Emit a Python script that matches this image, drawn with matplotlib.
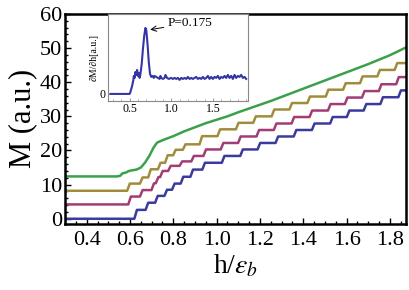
import numpy as np
import matplotlib
matplotlib.use("Agg")
import matplotlib.pyplot as plt
from matplotlib.ticker import MultipleLocator, FixedLocator

plt.rcParams['font.family'] = ['Liberation Serif', 'DejaVu Serif']
plt.rcParams['mathtext.fontset'] = 'stix'

# ---- data: staircase curves (rise locations and levels after each rise) ----
blue_start = 0.0
blue_steps = [0.626, 0.678, 0.722, 0.765, 0.80, 0.84, 0.885, 0.94, 1.03, 1.115,
              1.195, 1.278, 1.362, 1.446, 1.53, 1.607, 1.685, 1.762, 1.845]
blue_levels = [2.6, 4.7, 6.7, 8.5, 10.3, 12.3, 14.4, 16.4, 18.4, 20.3,
               22.2, 24.1, 26.0, 27.9, 29.8, 31.7, 33.6, 35.6, 37.6]

mag_start = 4.2
mag_steps = [0.598, 0.652, 0.705, 0.725, 0.745, 0.782, 0.835, 0.889, 0.945, 1.025,
             1.105, 1.19, 1.27, 1.352, 1.435, 1.52, 1.598, 1.677, 1.755, 1.835]
mag_levels = [6.5, 8.4, 10.4, 12.2, 14.0, 15.5, 16.8, 18.4, 20.3, 22.2,
              24.1, 26.0, 27.9, 29.8, 31.7, 33.6, 35.5, 37.4, 39.4, 41.5]

gold_start = 8.2
gold_steps = [0.593, 0.652, 0.69, 0.735, 0.768, 0.805, 0.85, 0.927, 1.01, 1.095,
              1.175, 1.26, 1.342, 1.425, 1.51, 1.59, 1.668, 1.748, 1.828]
gold_levels = [10.3, 12.1, 14.5, 16.4, 18.6, 20.2, 21.8, 24.2, 26.2, 28.1,
               30.0, 32.0, 33.9, 35.8, 37.8, 39.7, 41.7, 43.6, 45.6]

green_h = [0.30, 0.54, 0.555, 0.565, 0.58, 0.595, 0.61, 0.63, 0.65, 0.67, 0.69, 0.71,
           0.725, 0.75, 0.80, 0.85, 0.90, 0.95, 1.0, 1.05, 1.1, 1.15, 1.2, 1.25,
           1.3, 1.35, 1.4, 1.45, 1.5, 1.55, 1.6, 1.65, 1.7, 1.75, 1.8, 1.875]
green_m = [12.4, 12.4, 12.6, 13.3, 13.5, 14.0, 14.2, 14.4, 15.0, 16.5, 18.5, 21.0,
           22.3, 23.0, 24.2, 25.6, 26.8, 28.0, 29.0, 30.0, 31.2, 32.3, 33.4, 34.5,
           35.7, 36.9, 38.1, 39.3, 40.5, 41.7, 42.9, 44.1, 45.3, 46.6, 47.9, 50.2]

# ---- inset data: dM/dh ----
ins_h = [0.27, 0.50, 0.51, 0.53, 0.545, 0.55, 0.56, 0.57, 0.58, 0.59, 0.60, 0.61,
         0.62, 0.63, 0.645, 0.66, 0.675, 0.69, 0.70, 0.715, 0.73, 0.745, 0.76,
         0.775, 0.79, 0.80, 0.82, 0.84, 0.86, 0.87, 0.88, 0.90, 0.92, 0.93, 0.95,
         0.97, 1.0, 1.02, 1.04, 1.06, 1.08, 1.10, 1.12, 1.14, 1.16, 1.18, 1.20,
         1.22, 1.24, 1.26, 1.28, 1.30, 1.32, 1.34, 1.36, 1.38, 1.40, 1.42, 1.44,
         1.46, 1.48, 1.50, 1.52, 1.54, 1.56, 1.58, 1.60, 1.62, 1.64, 1.66, 1.68,
         1.70, 1.72, 1.74, 1.76, 1.78, 1.80, 1.82, 1.84, 1.86, 1.88, 1.90]
ins_v = [0, 0, 2, 8, 14, 18, 16, 22, 19, 24, 18, 21,
         16, 20, 30, 45, 58, 66, 64, 50, 32, 20, 17,
         18, 16, 18, 17, 16, 15, 18, 16, 15, 16, 19, 16,
         15, 16, 15, 16, 15, 16, 14, 16, 15, 16, 15, 17,
         15, 16, 15, 16, 17, 15, 16, 15, 17, 15, 16, 18,
         15, 17, 15, 17, 16, 18, 15, 17, 16, 18, 16, 19,
         16, 18, 15, 19, 16, 18, 17, 19, 16, 17, 15]

x_ticks = [0.4, 0.6, 0.8, 1.0, 1.2, 1.4, 1.6, 1.8]
y_ticks = [0, 10, 20, 30, 40, 50, 60]

colors = {'blue': '#3b3b9e', 'mag': '#a23c74', 'gold': '#a08d3c', 'green': '#3ba04c'}


def stair_path(start, steps, levels, x0=0.30, x1=1.875, w=0.012):
    xs, ys = [x0], [start]
    prev = start
    for s, lv in zip(steps, levels):
        xs += [s - w / 2, s + w / 2]
        ys += [prev, lv]
        prev = lv
    xs.append(x1)
    ys.append(prev)
    return xs, ys


fig = plt.figure(figsize=(4.09, 2.90), dpi=100)
ax = fig.add_axes([0.159, 0.228, 0.834, 0.724])

for (st, sp, lv, c) in [(blue_start, blue_steps, blue_levels, colors['blue']),
                        (mag_start, mag_steps, mag_levels, colors['mag']),
                        (gold_start, gold_steps, gold_levels, colors['gold'])]:
    xs, ys = stair_path(st, sp, lv)
    ax.plot(xs, ys, color=c, lw=1.8, solid_joinstyle='round')
ax.plot(green_h, green_m, color=colors['green'], lw=1.8)

ax.set_xlim(0.3, 1.875)
ax.set_ylim(-1.5, 60)
ax.xaxis.set_major_locator(FixedLocator(x_ticks))
ax.yaxis.set_major_locator(FixedLocator(y_ticks))
ax.xaxis.set_minor_locator(MultipleLocator(0.05))
ax.yaxis.set_minor_locator(MultipleLocator(2))
ax.set_xticklabels([f"{t:.1f}" for t in x_ticks])
ax.tick_params(axis='both', which='major', direction='in', length=4, width=1,
               labelsize=16, top=False, right=False)
ax.tick_params(axis='x', which='major', pad=5)
ax.tick_params(axis='y', which='major', pad=2)
ax.tick_params(axis='both', which='minor', direction='in', length=2, width=1,
               top=False, right=False)
for s in ax.spines.values():
    s.set_linewidth(1.8)
ax.set_xlabel(r"h/$\epsilon_b$", fontsize=20, labelpad=2)
ax.set_ylabel("M (a.u.)", fontsize=22, labelpad=2)

# ---- inset ----
ins = fig.add_axes([0.264, 0.652, 0.342, 0.300])
ins.plot(ins_h, ins_v, color='#3535a5', lw=1.5)
ins.set_xlim(0.24, 1.92)
ins.set_ylim(-7, 80)
ins.xaxis.set_major_locator(FixedLocator([0.5, 1.0, 1.5]))
ins.xaxis.set_minor_locator(MultipleLocator(0.1))
ins.yaxis.set_major_locator(FixedLocator([0]))
ins.set_yticklabels(["0"])
ins.tick_params(axis='both', which='major', direction='in', length=2.5, width=0.6,
                labelsize=8.5, pad=1.5, colors='#888888', labelcolor='black')
ins.tick_params(axis='x', which='minor', direction='in', length=1.5, width=0.5,
                colors='#888888')
for s in ins.spines.values():
    s.set_linewidth(0.8)
    s.set_color('#888888')
ins.set_ylabel("∂M/∂h[a.u.]", fontsize=7, labelpad=1)
ins.annotate("P=0.175", xy=(0.73, 64), xytext=(0.96, 71), fontsize=9.5,
             va='center', ha='left',
             arrowprops=dict(arrowstyle='->', color='black', lw=0.7,
                             shrinkA=1, shrinkB=1))

fig.savefig("out.png", dpi=100)
